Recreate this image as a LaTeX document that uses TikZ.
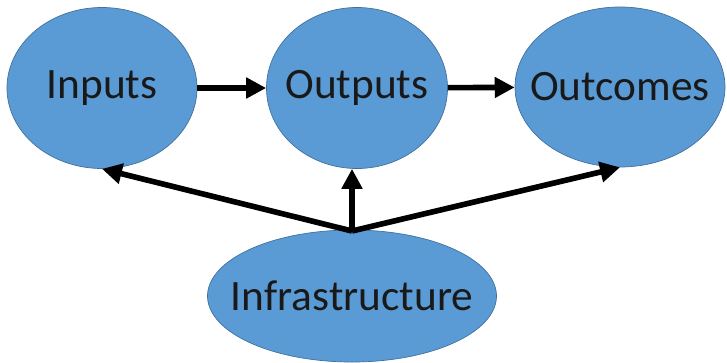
\documentclass[tikz,border=0pt]{standalone}
\usepackage{fontspec}
\setmainfont{Carlito}
\usetikzlibrary{shapes.geometric,arrows.meta}
\definecolor{bubblefill}{HTML}{5B9BD5}
\definecolor{bubbleline}{HTML}{41719C}
\begin{document}
\begin{tikzpicture}[x=0.03cm,y=-0.03cm,
  bubble/.style={ellipse,draw=bubbleline,line width=0.6pt,fill=bubblefill,inner sep=0pt,
    text=black!90,font=\fontsize{37}{44}\selectfont},
  link/.style={line width=4.8pt,-{Triangle[length=17pt,width=17pt]}}]
  \useasboundingbox (0,0) rectangle (727,362);
  \node [bubble,minimum width=190*0.03cm,minimum height=161*0.03cm] (in)  at (102,88)  {\makebox[0pt]{Inputs}};
  \node [bubble,minimum width=181*0.03cm,minimum height=161*0.03cm] (out) at (357,88)  {\makebox[0pt]{Outputs}};
  \node [bubble,minimum width=210*0.03cm,minimum height=160*0.03cm] (oc)  at (620,87)  {\makebox[0pt]{Outcomes}};
  \node [bubble,minimum width=289*0.03cm,minimum height=132*0.03cm] (inf) at (352,296) {\makebox[0pt]{Infrastructure}};
  \coordinate (fan) at (352,231);
  \draw [link] (in) -- (out);
  \draw [link] (out) -- (oc);
  \draw [link] (fan) -- (in.south);
  \draw [link] (fan) -- (out.south -| fan);
  \draw [link] (fan) -- (oc.south);
\end{tikzpicture}
\end{document}
